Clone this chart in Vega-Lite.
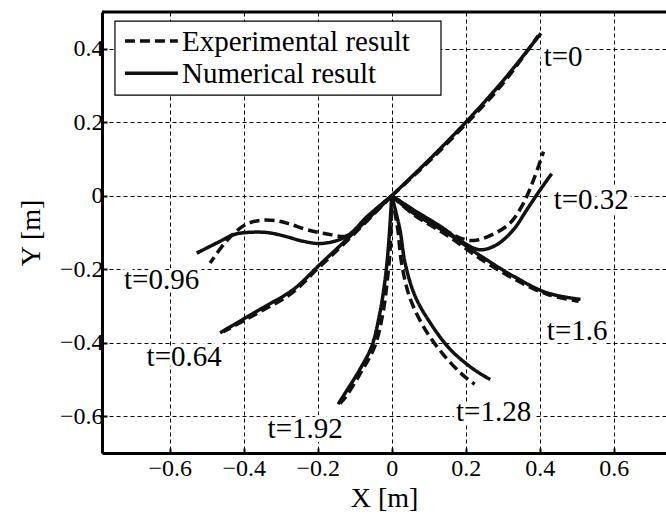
{
  "$schema": "https://vega.github.io/schema/vega-lite/v6.json",
  "width": 564,
  "height": 441,
  "autosize": {"type": "none"},
  "padding": {"left": 102, "top": 12, "right": 0, "bottom": 66},
  "background": "white",
  "datasets": {
    "curves": [
      {"t": "0", "kind": "Numerical result", "i": 0, "x": 0, "y": 0},
      {"t": "0", "kind": "Numerical result", "i": 1, "x": 0.1, "y": 0.097},
      {"t": "0", "kind": "Numerical result", "i": 2, "x": 0.2, "y": 0.2},
      {"t": "0", "kind": "Numerical result", "i": 3, "x": 0.3, "y": 0.312},
      {"t": "0", "kind": "Numerical result", "i": 4, "x": 0.403, "y": 0.442},
      {"t": "0", "kind": "Experimental result", "i": 0, "x": 0, "y": 0},
      {"t": "0", "kind": "Experimental result", "i": 1, "x": 0.1, "y": 0.093},
      {"t": "0", "kind": "Experimental result", "i": 2, "x": 0.2, "y": 0.195},
      {"t": "0", "kind": "Experimental result", "i": 3, "x": 0.3, "y": 0.305},
      {"t": "0", "kind": "Experimental result", "i": 4, "x": 0.395, "y": 0.435},

      {"t": "0.32", "kind": "Numerical result", "i": 0, "x": 0, "y": 0},
      {"t": "0.32", "kind": "Numerical result", "i": 1, "x": 0.058, "y": -0.038},
      {"t": "0.32", "kind": "Numerical result", "i": 2, "x": 0.131, "y": -0.083},
      {"t": "0.32", "kind": "Numerical result", "i": 3, "x": 0.194, "y": -0.128},
      {"t": "0.32", "kind": "Numerical result", "i": 4, "x": 0.239, "y": -0.147},
      {"t": "0.32", "kind": "Numerical result", "i": 5, "x": 0.284, "y": -0.133},
      {"t": "0.32", "kind": "Numerical result", "i": 6, "x": 0.329, "y": -0.092},
      {"t": "0.32", "kind": "Numerical result", "i": 7, "x": 0.365, "y": -0.038},
      {"t": "0.32", "kind": "Numerical result", "i": 8, "x": 0.401, "y": 0.016},
      {"t": "0.32", "kind": "Numerical result", "i": 9, "x": 0.432, "y": 0.06},
      {"t": "0.32", "kind": "Experimental result", "i": 0, "x": 0, "y": 0},
      {"t": "0.32", "kind": "Experimental result", "i": 1, "x": 0.06, "y": -0.04},
      {"t": "0.32", "kind": "Experimental result", "i": 2, "x": 0.13, "y": -0.085},
      {"t": "0.32", "kind": "Experimental result", "i": 3, "x": 0.18, "y": -0.113},
      {"t": "0.32", "kind": "Experimental result", "i": 4, "x": 0.221, "y": -0.122},
      {"t": "0.32", "kind": "Experimental result", "i": 5, "x": 0.275, "y": -0.104},
      {"t": "0.32", "kind": "Experimental result", "i": 6, "x": 0.32, "y": -0.074},
      {"t": "0.32", "kind": "Experimental result", "i": 7, "x": 0.356, "y": -0.02},
      {"t": "0.32", "kind": "Experimental result", "i": 8, "x": 0.383, "y": 0.043},
      {"t": "0.32", "kind": "Experimental result", "i": 9, "x": 0.41, "y": 0.12},

      {"t": "0.64", "kind": "Numerical result", "i": 0, "x": 0, "y": 0},
      {"t": "0.64", "kind": "Numerical result", "i": 1, "x": -0.122, "y": -0.119},
      {"t": "0.64", "kind": "Numerical result", "i": 2, "x": -0.194, "y": -0.187},
      {"t": "0.64", "kind": "Numerical result", "i": 3, "x": -0.266, "y": -0.255},
      {"t": "0.64", "kind": "Numerical result", "i": 4, "x": -0.356, "y": -0.309},
      {"t": "0.64", "kind": "Numerical result", "i": 5, "x": -0.464, "y": -0.373},
      {"t": "0.64", "kind": "Experimental result", "i": 0, "x": 0, "y": 0},
      {"t": "0.64", "kind": "Experimental result", "i": 1, "x": -0.12, "y": -0.122},
      {"t": "0.64", "kind": "Experimental result", "i": 2, "x": -0.2, "y": -0.198},
      {"t": "0.64", "kind": "Experimental result", "i": 3, "x": -0.27, "y": -0.265},
      {"t": "0.64", "kind": "Experimental result", "i": 4, "x": -0.36, "y": -0.318},
      {"t": "0.64", "kind": "Experimental result", "i": 5, "x": -0.455, "y": -0.37},

      {"t": "0.96", "kind": "Numerical result", "i": 0, "x": 0, "y": 0},
      {"t": "0.96", "kind": "Numerical result", "i": 1, "x": -0.068, "y": -0.058},
      {"t": "0.96", "kind": "Numerical result", "i": 2, "x": -0.113, "y": -0.104},
      {"t": "0.96", "kind": "Numerical result", "i": 3, "x": -0.149, "y": -0.122},
      {"t": "0.96", "kind": "Numerical result", "i": 4, "x": -0.194, "y": -0.13},
      {"t": "0.96", "kind": "Numerical result", "i": 5, "x": -0.239, "y": -0.124},
      {"t": "0.96", "kind": "Numerical result", "i": 6, "x": -0.293, "y": -0.109},
      {"t": "0.96", "kind": "Numerical result", "i": 7, "x": -0.338, "y": -0.1},
      {"t": "0.96", "kind": "Numerical result", "i": 8, "x": -0.392, "y": -0.1},
      {"t": "0.96", "kind": "Numerical result", "i": 9, "x": -0.428, "y": -0.106},
      {"t": "0.96", "kind": "Numerical result", "i": 10, "x": -0.464, "y": -0.124},
      {"t": "0.96", "kind": "Numerical result", "i": 11, "x": -0.527, "y": -0.156},
      {"t": "0.96", "kind": "Experimental result", "i": 0, "x": 0, "y": 0},
      {"t": "0.96", "kind": "Experimental result", "i": 1, "x": -0.065, "y": -0.058},
      {"t": "0.96", "kind": "Experimental result", "i": 2, "x": -0.1, "y": -0.095},
      {"t": "0.96", "kind": "Experimental result", "i": 3, "x": -0.122, "y": -0.11},
      {"t": "0.96", "kind": "Experimental result", "i": 4, "x": -0.176, "y": -0.104},
      {"t": "0.96", "kind": "Experimental result", "i": 5, "x": -0.23, "y": -0.092},
      {"t": "0.96", "kind": "Experimental result", "i": 6, "x": -0.275, "y": -0.077},
      {"t": "0.96", "kind": "Experimental result", "i": 7, "x": -0.311, "y": -0.068},
      {"t": "0.96", "kind": "Experimental result", "i": 8, "x": -0.356, "y": -0.067},
      {"t": "0.96", "kind": "Experimental result", "i": 9, "x": -0.392, "y": -0.077},
      {"t": "0.96", "kind": "Experimental result", "i": 10, "x": -0.424, "y": -0.1},
      {"t": "0.96", "kind": "Experimental result", "i": 11, "x": -0.455, "y": -0.133},
      {"t": "0.96", "kind": "Experimental result", "i": 12, "x": -0.491, "y": -0.183},

      {"t": "1.28", "kind": "Numerical result", "i": 0, "x": 0, "y": 0},
      {"t": "1.28", "kind": "Numerical result", "i": 1, "x": 0.022, "y": -0.092},
      {"t": "1.28", "kind": "Numerical result", "i": 2, "x": 0.036, "y": -0.183},
      {"t": "1.28", "kind": "Numerical result", "i": 3, "x": 0.063, "y": -0.273},
      {"t": "1.28", "kind": "Numerical result", "i": 4, "x": 0.104, "y": -0.346},
      {"t": "1.28", "kind": "Numerical result", "i": 5, "x": 0.158, "y": -0.418},
      {"t": "1.28", "kind": "Numerical result", "i": 6, "x": 0.221, "y": -0.472},
      {"t": "1.28", "kind": "Numerical result", "i": 7, "x": 0.266, "y": -0.5},
      {"t": "1.28", "kind": "Experimental result", "i": 0, "x": 0, "y": 0},
      {"t": "1.28", "kind": "Experimental result", "i": 1, "x": 0.016, "y": -0.09},
      {"t": "1.28", "kind": "Experimental result", "i": 2, "x": 0.026, "y": -0.18},
      {"t": "1.28", "kind": "Experimental result", "i": 3, "x": 0.048, "y": -0.275},
      {"t": "1.28", "kind": "Experimental result", "i": 4, "x": 0.088, "y": -0.36},
      {"t": "1.28", "kind": "Experimental result", "i": 5, "x": 0.14, "y": -0.433},
      {"t": "1.28", "kind": "Experimental result", "i": 6, "x": 0.19, "y": -0.486},
      {"t": "1.28", "kind": "Experimental result", "i": 7, "x": 0.224, "y": -0.513},

      {"t": "1.6", "kind": "Numerical result", "i": 0, "x": 0, "y": 0},
      {"t": "1.6", "kind": "Numerical result", "i": 1, "x": 0.058, "y": -0.047},
      {"t": "1.6", "kind": "Numerical result", "i": 2, "x": 0.149, "y": -0.101},
      {"t": "1.6", "kind": "Numerical result", "i": 3, "x": 0.239, "y": -0.163},
      {"t": "1.6", "kind": "Numerical result", "i": 4, "x": 0.329, "y": -0.219},
      {"t": "1.6", "kind": "Numerical result", "i": 5, "x": 0.419, "y": -0.264},
      {"t": "1.6", "kind": "Numerical result", "i": 6, "x": 0.51, "y": -0.282},
      {"t": "1.6", "kind": "Experimental result", "i": 0, "x": 0, "y": 0},
      {"t": "1.6", "kind": "Experimental result", "i": 1, "x": 0.06, "y": -0.052},
      {"t": "1.6", "kind": "Experimental result", "i": 2, "x": 0.15, "y": -0.108},
      {"t": "1.6", "kind": "Experimental result", "i": 3, "x": 0.24, "y": -0.172},
      {"t": "1.6", "kind": "Experimental result", "i": 4, "x": 0.33, "y": -0.226},
      {"t": "1.6", "kind": "Experimental result", "i": 5, "x": 0.42, "y": -0.268},
      {"t": "1.6", "kind": "Experimental result", "i": 6, "x": 0.505, "y": -0.287},

      {"t": "1.92", "kind": "Numerical result", "i": 0, "x": 0, "y": 0},
      {"t": "1.92", "kind": "Numerical result", "i": 1, "x": -0.009, "y": -0.138},
      {"t": "1.92", "kind": "Numerical result", "i": 2, "x": -0.018, "y": -0.228},
      {"t": "1.92", "kind": "Numerical result", "i": 3, "x": -0.032, "y": -0.318},
      {"t": "1.92", "kind": "Numerical result", "i": 4, "x": -0.054, "y": -0.409},
      {"t": "1.92", "kind": "Numerical result", "i": 5, "x": -0.086, "y": -0.472},
      {"t": "1.92", "kind": "Numerical result", "i": 6, "x": -0.131, "y": -0.545},
      {"t": "1.92", "kind": "Numerical result", "i": 7, "x": -0.145, "y": -0.567},
      {"t": "1.92", "kind": "Experimental result", "i": 0, "x": 0, "y": 0},
      {"t": "1.92", "kind": "Experimental result", "i": 1, "x": -0.004, "y": -0.14},
      {"t": "1.92", "kind": "Experimental result", "i": 2, "x": -0.012, "y": -0.23},
      {"t": "1.92", "kind": "Experimental result", "i": 3, "x": -0.024, "y": -0.32},
      {"t": "1.92", "kind": "Experimental result", "i": 4, "x": -0.046, "y": -0.41},
      {"t": "1.92", "kind": "Experimental result", "i": 5, "x": -0.08, "y": -0.475},
      {"t": "1.92", "kind": "Experimental result", "i": 6, "x": -0.125, "y": -0.548},
      {"t": "1.92", "kind": "Experimental result", "i": 7, "x": -0.14, "y": -0.565}
    ],
    "labels": [
      {"label": "t=0", "x": 0.463, "y": 0.377},
      {"label": "t=0.32", "x": 0.539, "y": -0.011},
      {"label": "t=0.96", "x": -0.622, "y": -0.228},
      {"label": "t=0.64", "x": -0.561, "y": -0.44},
      {"label": "t=1.92", "x": -0.234, "y": -0.635},
      {"label": "t=1.6", "x": 0.501, "y": -0.369},
      {"label": "t=1.28", "x": 0.275, "y": -0.589}
    ],
    "legend": [
      {"kind": "Experimental result", "x": -0.721, "x2": -0.578, "tx": -0.567, "y": 0.421},
      {"kind": "Numerical result", "x": -0.721, "x2": -0.578, "tx": -0.567, "y": 0.333}
    ],
    "frame": [
      {"x": -0.748, "x2": 0.133, "y": 0.475, "y2": 0.274, "top": 0.5}
    ]
  },
  "layer": [
    {
      "data": {"name": "curves"},
      "mark": {"type": "line", "color": "#111", "strokeWidth": 3.5, "interpolate": "catmull-rom", "clip": true},
      "encoding": {
        "x": {
          "field": "x", "type": "quantitative",
          "scale": {"domain": [-0.783, 0.741], "nice": false, "zero": false},
          "axis": {
            "title": "X [m]",
            "values": [-0.6, -0.4, -0.2, 0, 0.2, 0.4, 0.6],
            "labelExpr": "datum.value == 0 ? '0' : format(datum.value, '.1f')",
            "labelPadding": 8,
            "titlePadding": 4
          }
        },
        "y": {
          "field": "y", "type": "quantitative",
          "scale": {"domain": [-0.7, 0.5], "nice": false, "zero": false},
          "axis": {
            "title": "Y [m]",
            "values": [-0.6, -0.4, -0.2, 0, 0.2, 0.4],
            "labelExpr": "datum.value == 0 ? '0' : format(datum.value, '.1f')",
            "labelPadding": 4,
            "titlePadding": 14
          }
        },
        "detail": {"field": "t"},
        "order": {"field": "i", "type": "quantitative"},
        "strokeDash": {
          "field": "kind", "type": "nominal",
          "scale": {"domain": ["Experimental result", "Numerical result"], "range": [[10, 5], [1, 0]]},
          "legend": null
        }
      }
    },
    {
      "data": {"name": "frame"},
      "mark": {"type": "rule", "color": "#000", "strokeWidth": 3},
      "encoding": {"y": {"field": "top", "type": "quantitative"}}
    },
    {
      "data": {"name": "labels"},
      "mark": {"type": "text", "font": "Liberation Serif", "fontSize": 29, "stroke": "white", "strokeWidth": 8, "fill": "white", "align": "center", "baseline": "middle"},
      "encoding": {
        "x": {"field": "x", "type": "quantitative"},
        "y": {"field": "y", "type": "quantitative"},
        "text": {"field": "label"}
      }
    },
    {
      "data": {"name": "labels"},
      "mark": {"type": "text", "font": "Liberation Serif", "fontSize": 29, "color": "#000", "align": "center", "baseline": "middle"},
      "encoding": {
        "x": {"field": "x", "type": "quantitative"},
        "y": {"field": "y", "type": "quantitative"},
        "text": {"field": "label"}
      }
    },
    {
      "data": {"name": "frame"},
      "mark": {"type": "rect", "fill": "white", "stroke": "#000", "strokeWidth": 1.2},
      "encoding": {
        "x": {"field": "x", "type": "quantitative"}, "x2": {"field": "x2"},
        "y": {"field": "y", "type": "quantitative"}, "y2": {"field": "y2"}
      }
    },
    {
      "data": {"name": "legend"},
      "mark": {"type": "rule", "color": "#111", "strokeWidth": 3.5},
      "encoding": {
        "x": {"field": "x", "type": "quantitative"},
        "x2": {"field": "x2"},
        "y": {"field": "y", "type": "quantitative"},
        "strokeDash": {
          "field": "kind", "type": "nominal",
          "scale": {"domain": ["Experimental result", "Numerical result"], "range": [[10, 5], [1, 0]]},
          "legend": null
        }
      }
    },
    {
      "data": {"name": "legend"},
      "mark": {"type": "text", "font": "Liberation Serif", "fontSize": 29, "color": "#000", "align": "left", "baseline": "middle", "dy": 1},
      "encoding": {
        "x": {"field": "tx", "type": "quantitative"},
        "y": {"field": "y", "type": "quantitative"},
        "text": {"field": "kind"}
      }
    }
  ],
  "config": {
    "view": {"stroke": null},
    "axis": {
      "grid": true,
      "gridColor": "#000",
      "gridOpacity": 1,
      "gridWidth": 1,
      "gridDash": [4, 3],
      "domainColor": "#000",
      "domainWidth": 3,
      "tickColor": "#000",
      "tickWidth": 2,
      "tickSize": -5,
      "labelFont": "Liberation Serif",
      "labelFontSize": 24,
      "labelColor": "#000",
      "labelFlush": false,
      "labelOverlap": false,
      "titleFont": "Liberation Serif",
      "titleFontSize": 28,
      "titleFontWeight": "normal",
      "titleColor": "#000"
    }
  }
}
